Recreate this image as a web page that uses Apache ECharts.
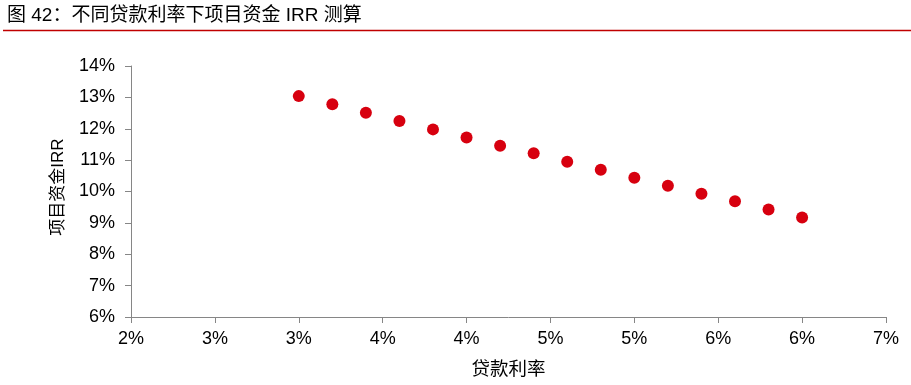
<!DOCTYPE html>
<html>
<head>
<meta charset="utf-8">
<script src="https://cdn.jsdelivr.net/npm/echarts@6/dist/echarts.min.js"></script>
<style>
html,body{margin:0;padding:0;background:#fff;}
#chart{width:911px;height:385px;}
</style>
</head>
<body>
<div id="chart"></div>
<script>
// Data (percent units)
const loanRates = [3.0, 3.2, 3.4, 3.6, 3.8, 4.0, 4.2, 4.4, 4.6, 4.8, 5.0, 5.2, 5.4, 5.6, 5.8, 6.0];
const projectIRR = [13.04, 12.78, 12.51, 12.25, 11.98, 11.72, 11.46, 11.22, 10.95, 10.69, 10.44, 10.18, 9.93, 9.69, 9.43, 9.17];
const titleText = '图 42：不同贷款利率下项目资金 IRR 测算';
const xName = '贷款利率';
const yName = '项目资金IRR';

const FONT = '"Liberation Sans", Arial, "Noto Sans CJK SC", sans-serif';
const chart = echarts.init(document.getElementById('chart'));
const points = loanRates.map((x, i) => [x, projectIRR[i]]);

chart.setOption({
  animation: false,
  backgroundColor: '#fff',
  textStyle: { fontFamily: FONT },
  graphic: [
    { type: 'text', left: 7, top: 6, style: { text: titleText, font: '19px ' + FONT, fill: '#000' } },
    { type: 'line', shape: { x1: 3, y1: 30.5, x2: 911, y2: 30.5 }, style: { stroke: '#c00000', lineWidth: 1.5 } }
  ],
  grid: { left: 131, right: 25, top: 66, bottom: 68, containLabel: false },
  xAxis: {
    type: 'value', min: 2, max: 6.5, interval: 0.5,
    name: xName, nameLocation: 'middle', nameGap: 44,
    nameTextStyle: { fontSize: 18.5, color: '#000', fontFamily: FONT },
    axisLine: { show: true, lineStyle: { color: '#868686', width: 1 } },
    axisTick: { show: true, length: 6, lineStyle: { color: '#868686' } },
    axisLabel: { fontSize: 18, color: '#000', margin: 13, formatter: v => Math.round(v) + '%' },
    splitLine: { show: false }
  },
  yAxis: {
    type: 'value', min: 6, max: 14, interval: 1,
    name: yName, nameLocation: 'middle', nameGap: 64, nameRotate: 90,
    nameTextStyle: { fontSize: 17, color: '#000', fontFamily: FONT, padding: [0, 0, 0, 9] },
    axisLine: { show: true, lineStyle: { color: '#868686', width: 1 } },
    axisTick: { show: true, length: 6, lineStyle: { color: '#868686' } },
    axisLabel: { fontSize: 18, color: '#000', margin: 16, formatter: v => v + '%' },
    splitLine: { show: false }
  },
  series: [{
    type: 'scatter',
    data: points,
    symbol: 'circle',
    symbolSize: 12,
    itemStyle: { color: '#d7000f', opacity: 1 }
  }]
});
</script>
</body>
</html>
